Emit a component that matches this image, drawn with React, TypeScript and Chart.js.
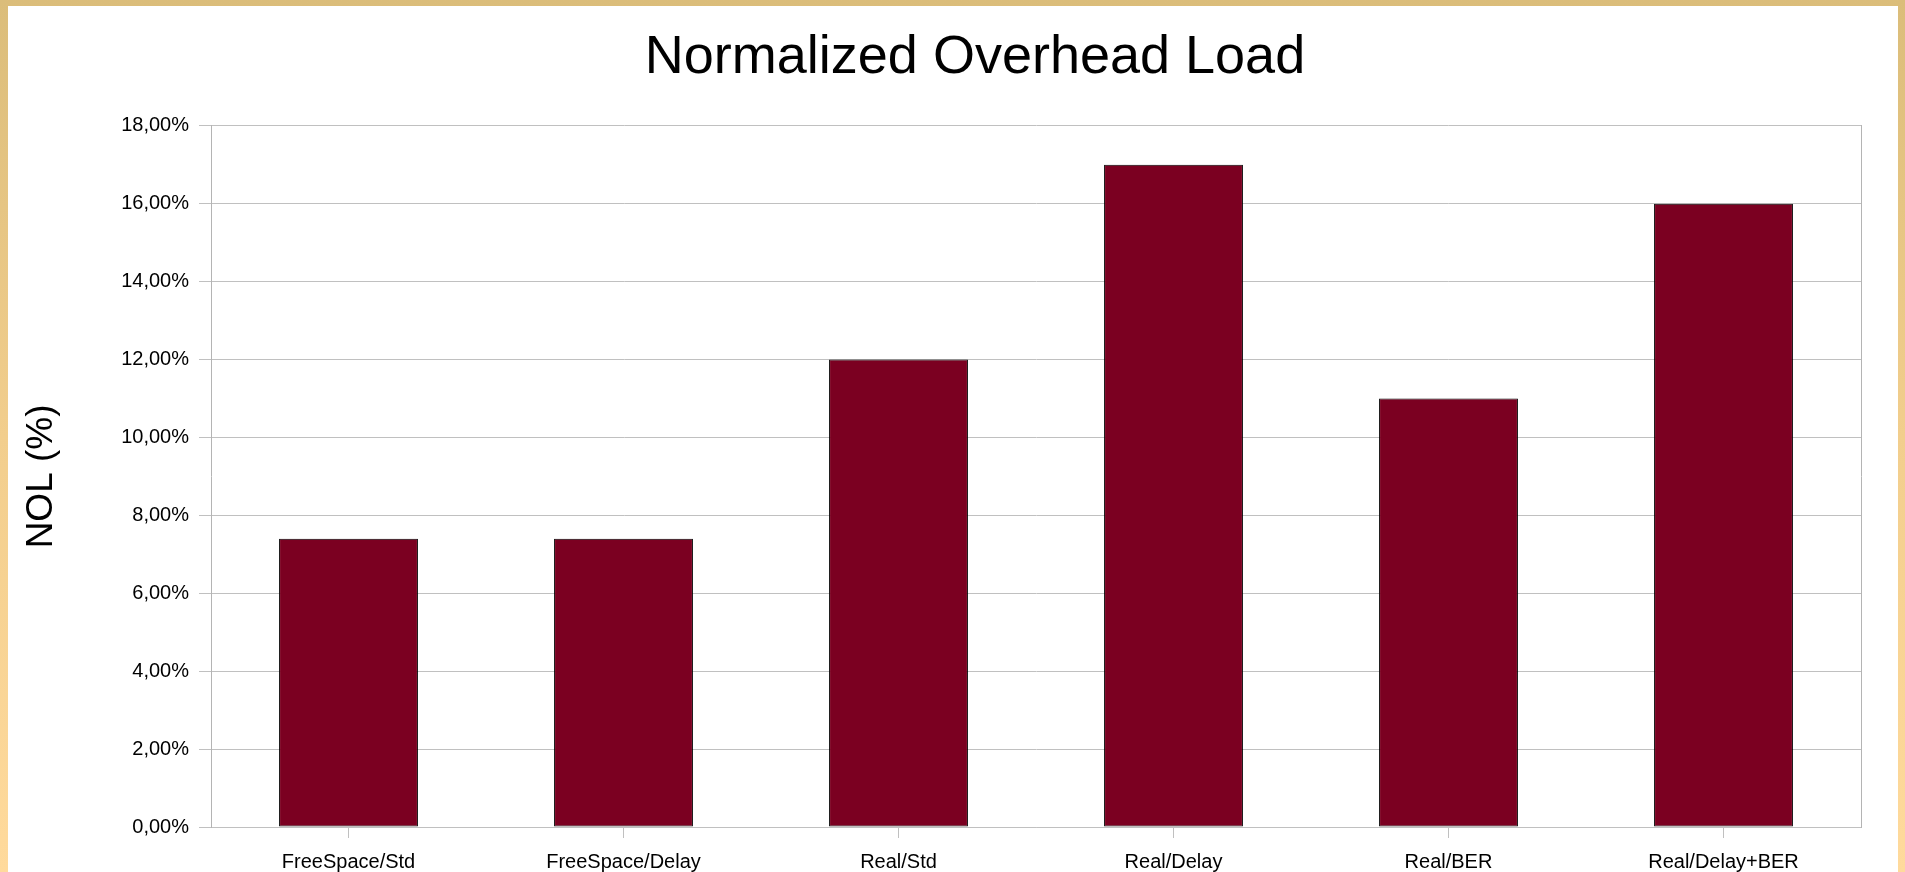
import React, { useEffect, useRef } from "react";
import { Chart, registerables } from "chart.js";

Chart.register(...registerables);

const categories: string[] = [
  "FreeSpace/Std",
  "FreeSpace/Delay",
  "Real/Std",
  "Real/Delay",
  "Real/BER",
  "Real/Delay+BER",
];
const nolValues: number[] = [7.4, 7.4, 12, 17, 11, 16];
const chartTitle = "Normalized Overhead Load";
const yAxisTitle = "NOL (%)";
const yMin = 0;
const yMax = 18;
const yStep = 2;

const FONT = '"Liberation Sans", Arial, sans-serif';

const CANVAS_W = 1919;
const CANVAS_H = 872;

export default function App() {
  const canvasRef = useRef<HTMLCanvasElement | null>(null);

  useEffect(() => {
    if (!canvasRef.current) return;
    const chart = new Chart(canvasRef.current, {
      type: "bar",
      data: {
        labels: categories,
        datasets: [
          {
            label: "NOL",
            data: nolValues,
            backgroundColor: "#7b0021",
            borderColor: "#000000",
            borderWidth: 1,
            borderSkipped: false,
            categoryPercentage: 1,
            barPercentage: 0.505,
            yAxisID: "y",
          },
        ],
      },
      options: {
        animation: false,
        responsive: false,
        devicePixelRatio: 1,
        layout: { padding: { left: 15, right: 0, top: 0, bottom: 0 } },
        plugins: {
          legend: { display: false },
          tooltip: { enabled: false },
          title: {
            display: true,
            text: chartTitle,
            color: "#000",
            font: { family: FONT, size: 54, weight: "normal" },
            padding: { top: 20, bottom: 35 },
          },
        },
        scales: {
          x: {
            afterFit: (scale: any) => {
              scale.height = 51;
            },
            grid: {
              display: true,
              drawOnChartArea: false,
              drawTicks: true,
              tickLength: 11,
              offset: false,
              color: "#c0c0c0",
            },
            border: { display: true, color: "#c0c0c0" },
            ticks: {
              color: "#000",
              font: { family: FONT, size: 20 },
              padding: 12,
              maxRotation: 0,
              autoSkip: false,
            },
          },
          y: {
            position: "left",
            min: yMin,
            max: yMax,
            afterFit: (scale: any) => {
              scale.width = 188;
            },
            grid: {
              color: "#c0c0c0",
              tickLength: 12,
              drawTicks: true,
            },
            border: { display: true, color: "#b4b4b4" },
            ticks: {
              stepSize: yStep,
              color: "#000",
              font: { family: FONT, size: 20 },
              padding: 10,
              callback: (v: any) => Number(v).toFixed(2).replace(".", ",") + "%",
            },
            title: {
              display: true,
              text: yAxisTitle,
              color: "#000",
              font: { family: FONT, size: 37, weight: "normal", lineHeight: 1 },
              padding: { top: 0, bottom: 0 },
            },
          },
          yRight: {
            position: "right",
            min: yMin,
            max: yMax,
            afterFit: (scale: any) => {
              scale.width = 66;
            },
            grid: { display: false, drawOnChartArea: false, drawTicks: false },
            border: { display: true, color: "#b4b4b4" },
            ticks: { display: false },
          },
        },
      },
    });
    return () => chart.destroy();
  }, []);

  return (
    <div
      style={{
        position: "fixed",
        left: 0,
        top: 0,
        width: 1905,
        height: 872,
        overflow: "hidden",
        background: "linear-gradient(to bottom, #dbbd7a 0%, #f2ce8d 50%, #ffda9c 100%)",
      }}
    >
      <div
        style={{
          position: "absolute",
          left: 8,
          top: 6,
          width: 1890,
          height: 900,
          background: "#ffffff",
        }}
      />
      <canvas
        ref={canvasRef}
        width={CANVAS_W}
        height={CANVAS_H}
        style={{ position: "absolute", left: 8, top: 6, width: CANVAS_W, height: CANVAS_H }}
      />
    </div>
  );
}
